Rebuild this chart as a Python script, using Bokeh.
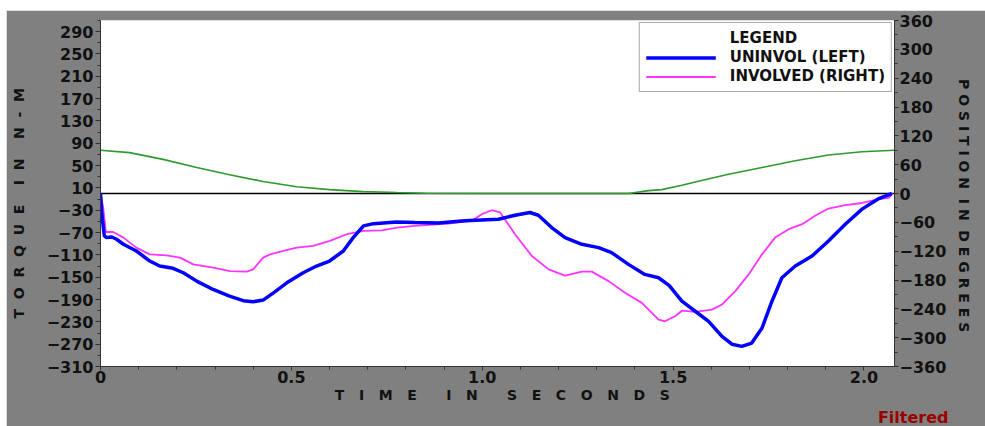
from bokeh.plotting import figure
from bokeh.layouts import column, row
from bokeh.models import Range1d, LinearAxis, FixedTicker, Span, Legend, LegendItem, Title, Spacer
from bokeh.embed import file_html
from bokeh.resources import INLINE

# ---------------- data ----------------
time_uninvol = [0.000, 0.004, 0.010, 0.016, 0.030, 0.042, 0.060, 0.094, 0.129, 0.155,
                0.190, 0.217, 0.252, 0.295, 0.338, 0.374, 0.400, 0.426, 0.453, 0.488,
                0.531, 0.566, 0.600, 0.636, 0.662, 0.689, 0.715, 0.776, 0.823, 0.885,
                0.954, 1.042, 1.086, 1.125, 1.147, 1.182, 1.217, 1.261, 1.305, 1.339,
                1.383, 1.426, 1.462, 1.490, 1.523, 1.558, 1.593, 1.628, 1.654, 1.680,
                1.706, 1.733, 1.759, 1.785, 1.820, 1.864, 1.907, 1.951, 1.995, 2.039,
                2.073]
torque_uninvol = [0, -40, -76, -79, -78, -82, -91, -103, -121, -130,
                  -134, -142, -157, -172, -184, -192, -194, -191, -178, -160,
                  -142, -130, -121, -103, -79, -58, -54, -51, -52, -53,
                  -49, -46, -39, -34, -39, -61, -79, -91, -97, -106,
                  -127, -145, -151, -165, -193, -211, -229, -256, -270, -274,
                  -268, -241, -193, -151, -130, -112, -85, -55, -28, -9,
                  0]

time_involved = [0.000, 0.007, 0.014, 0.033, 0.060, 0.094, 0.129, 0.173, 0.208, 0.243,
                 0.295, 0.339, 0.383, 0.400, 0.426, 0.444, 0.479, 0.514, 0.557, 0.601,
                 0.645, 0.689, 0.737, 0.776, 0.823, 0.911, 0.972, 0.999, 1.025, 1.047,
                 1.086, 1.130, 1.174, 1.217, 1.261, 1.287, 1.331, 1.374, 1.418, 1.462,
                 1.479, 1.505, 1.523, 1.558, 1.602, 1.628, 1.663, 1.698, 1.733, 1.767,
                 1.803, 1.838, 1.872, 1.907, 1.951, 1.995, 2.039, 2.065, 2.075]
torque_involved = [0, -25, -69, -69, -79, -97, -109, -111, -115, -127,
                   -133, -139, -140, -136, -115, -109, -103, -97, -94, -85,
                   -73, -67, -66, -61, -58, -54, -49, -37, -30, -34,
                   -73, -112, -136, -147, -140, -140, -157, -178, -196, -226,
                   -229, -220, -210, -212, -208, -199, -175, -145, -109, -79,
                   -64, -55, -40, -27, -21, -17, -10, -8, 0]

time_position = [0.000, 0.076, 0.164, 0.252, 0.338, 0.426, 0.514, 0.600, 0.689, 0.776,
                 0.850, 1.000, 1.383, 1.436, 1.470, 1.523, 1.558, 1.645, 1.733, 1.820,
                 1.907, 1.995, 2.080]
position_deg = [90, 85, 71, 54, 39, 25, 14, 8, 4, 2,
                0.5, 0, 0, 6, 8, 17, 24, 40, 54, 68,
                80, 87, 90]

left_ticks = [-310, -270, -230, -190, -150, -110, -70, -30, 10, 50, 90, 130, 170, 210, 250, 290]
left_minor = [-310, -290, -270, -250, -230, -210, -190, -170, -150, -130, -110, -90, -70, -50,
              -30, -10, 10, 30, 50, 70, 90, 110, 130, 150, 170, 190, 210, 230, 250, 270, 290, 310]
right_ticks = [-360, -300, -240, -180, -120, -60, 0, 60, 120, 180, 240, 300, 360]
right_minor = [-360, -330, -300, -270, -240, -210, -180, -150, -120, -90, -60, -30, 0,
               30, 60, 90, 120, 150, 180, 210, 240, 270, 300, 330, 360]
x_ticks = [0, 0.5, 1.0, 1.5, 2.0]
x_tick_labels = ["0", "0.5", "1.0", "1.5", "2.0"]
x_minor = [0, 0.1, 0.2, 0.3, 0.4, 0.5, 0.6, 0.7, 0.8, 0.9, 1.0, 1.1, 1.2, 1.3, 1.4, 1.5,
           1.6, 1.7, 1.8, 1.9, 2.0]

legend_labels = ["LEGEND", "UNINVOL (LEFT)", "INVOLVED (RIGHT)"]
x_title = "TIME IN SECONDS"
left_title = "TORQUE IN N-M"
right_title = "POSITION IN DEGREES"
note_text = "Filtered"

NB = "\u00a0"


def spaced(s, letter_gap, word_gap, lead=0, trail=0):
    words = s.split(" ")
    body = (NB * word_gap).join((NB * letter_gap).join(list(w)) for w in words)
    return NB * lead + body + NB * trail


FONT = "DejaVu Sans"
GRAY = "#808080"

p = figure(width=979, height=416, output_backend="svg", toolbar_location=None,
           x_range=Range1d(0, 2.08), y_range=Range1d(-310, 310),
           min_border_left=94, min_border_right=91, min_border_top=10, min_border_bottom=60,
           background_fill_color="white", border_fill_color=GRAY)
p.outline_line_color = None
p.xgrid.visible = False
p.ygrid.visible = False
p.extra_y_ranges = {"pos": Range1d(-360, 360)}


def style_axis(ax):
    ax.axis_line_color = "#333333"
    ax.axis_line_width = 1
    ax.major_tick_line_color = "#333333"
    ax.minor_tick_line_color = "#333333"
    ax.major_tick_in = 0
    ax.major_tick_out = 5
    ax.minor_tick_in = 0
    ax.minor_tick_out = 3
    ax.major_label_text_font = FONT
    ax.major_label_text_font_style = "bold"
    ax.major_label_text_font_size = "16px"
    ax.major_label_text_color = "#111111"
    ax.axis_label_text_font = FONT
    ax.axis_label_text_font_style = "bold"
    ax.axis_label_text_font_size = "14px"
    ax.axis_label_text_color = "#111111"


xa = p.xaxis[0]
style_axis(xa)
xa.ticker = FixedTicker(ticks=x_ticks, minor_ticks=x_minor)
xa.major_label_overrides = {t: lab for t, lab in zip(x_ticks, x_tick_labels)}
xa.axis_label = spaced(x_title, 3, 6, lead=2)
xa.major_tick_out = 4
xa.major_label_standoff = 0
xa.axis_label_standoff = 1

ya = p.yaxis[0]
style_axis(ya)
ya.ticker = FixedTicker(ticks=left_ticks, minor_ticks=left_minor)
ya.axis_label = spaced(left_title, 2, 4, trail=4)
ya.major_label_standoff = 2
ya.axis_label_standoff = 17

ra = LinearAxis(y_range_name="pos")
style_axis(ra)
ra.ticker = FixedTicker(ticks=right_ticks, minor_ticks=right_minor)
ra.axis_label = spaced(right_title, 1, 2, lead=5)
ra.major_tick_out = 4
ra.major_label_standoff = 1
ra.axis_label_standoff = 7
p.add_layout(ra, "right")

zero = Span(location=0, dimension="width", line_color="black", line_width=1.5, level="underlay")
p.add_layout(zero)

dummy = p.line([], [], line_alpha=0)
green = p.line(time_position, position_deg, y_range_name="pos", line_color="#2e9a2e", line_width=1.6)
mag = p.line(time_involved, torque_involved, line_color="#ff33ff", line_width=1.8)
blue = p.line(time_uninvol, torque_uninvol, line_color="#0000ff", line_width=3.5)

legend = Legend(items=[LegendItem(label=legend_labels[0], renderers=[dummy]),
                       LegendItem(label=legend_labels[1], renderers=[blue]),
                       LegendItem(label=legend_labels[2], renderers=[mag])],
                location="top_right")
legend.label_text_font = FONT
legend.label_text_font_style = "bold"
legend.label_text_font_size = "15px"
legend.label_text_color = "#111111"
legend.glyph_width = 70
legend.glyph_height = 15
legend.label_height = 15
legend.label_standoff = 14
legend.spacing = 1
legend.padding = 6
legend.margin = 2
legend.border_line_color = "#555555"
legend.border_line_width = 1
legend.background_fill_color = "white"
legend.background_fill_alpha = 1
p.add_layout(legend)

note = Title(text=note_text, align="right", offset=-54, standoff=0,
             text_color="#9b0000", text_font=FONT, text_font_style="bold",
             text_font_size="16px")
p.add_layout(note, "below")

page = column(Spacer(height=10, width=985), row(Spacer(width=6, height=416), p))

open("out.html", "w").write(file_html(page, INLINE))
